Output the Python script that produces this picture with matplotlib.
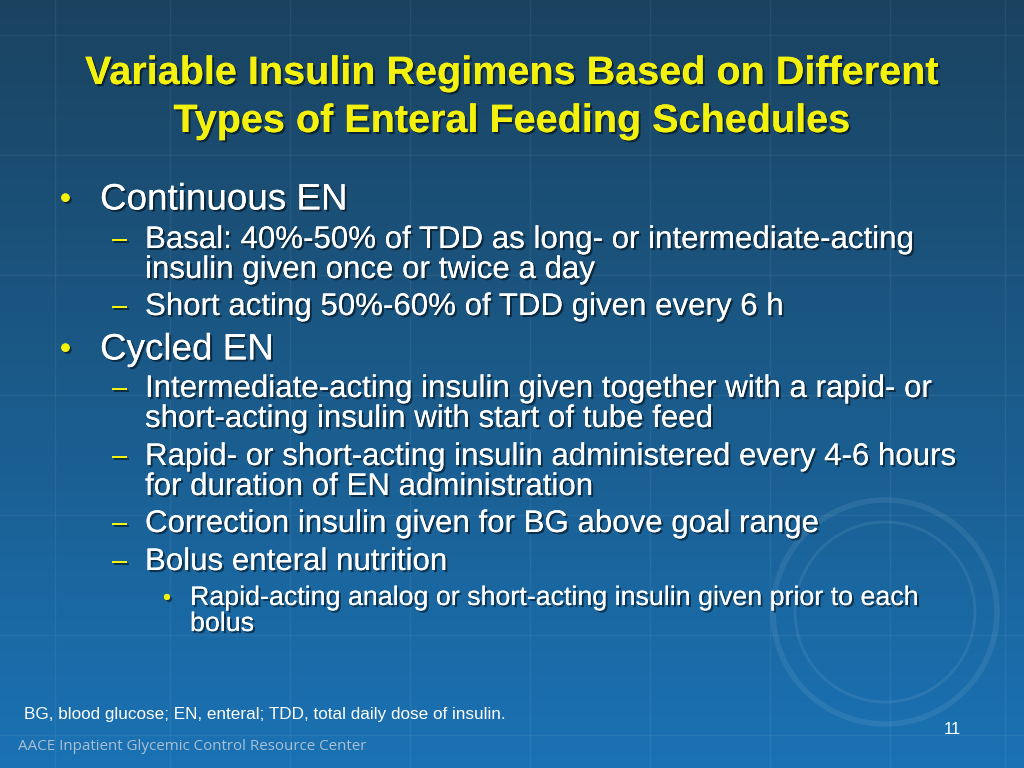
import numpy as np
import matplotlib.pyplot as plt
from matplotlib import patheffects as pe
from matplotlib.patches import Circle

# Slide content
title_lines = ["Variable Insulin Regimens Based on Different",
               "Types of Enteral Feeding Schedules"]
# (level, y position of first line, lines)
bullets = [
    (1, 200, ["Continuous EN"]),
    (2, 240, ["Basal: 40%-50% of TDD as long- or intermediate-acting",
              "insulin given once or twice a day"]),
    (2, 307, ["Short acting 50%-60% of TDD given every 6 h"]),
    (1, 350, ["Cycled EN"]),
    (2, 389, ["Intermediate-acting insulin given together with a rapid- or",
              "short-acting insulin with start of tube feed"]),
    (2, 457, ["Rapid- or short-acting insulin administered every 4-6 hours",
              "for duration of EN administration"]),
    (2, 524, ["Correction insulin given for BG above goal range"]),
    (2, 562, ["Bolus enteral nutrition"]),
    (3, 598, ["Rapid-acting analog or short-acting insulin given prior to each",
              "bolus"]),
]
footnote = "BG, blood glucose; EN, enteral; TDD, total daily dose of insulin."
footer = "AACE Inpatient Glycemic Control Resource Center"
page_no = "11"

W, H = 1024, 768
fig = plt.figure(figsize=(10.24, 7.68), dpi=100)
ax = fig.add_axes([0, 0, 1, 1])
ax.set_xlim(0, W)
ax.set_ylim(H, 0)
ax.axis("off")

# gradient background
top = np.array([0x1b, 0x43, 0x60]) / 255
bot = np.array([0x1a, 0x72, 0xb4]) / 255
t = np.linspace(0, 1, 256)[:, None]
grad = top + (bot - top) * t
img = np.repeat(grad[:, None, :], 2, axis=1)
ax.imshow(img, extent=[0, W, H, 0], aspect="auto", zorder=0)

# faint grid lines
for gx in [55, 170, 290, 410, 530, 650, 770, 890, 1005]:
    ax.axvline(gx, color="white", alpha=0.06, lw=1, zorder=1)
for gy in [35, 155, 275, 395, 515, 635, 735]:
    ax.axhline(gy, color="white", alpha=0.06, lw=1, zorder=1)

# faint seal watermark (rings only)
for r, lw in [(112, 4), (90, 2)]:
    ax.add_patch(Circle((885, 612), r, fill=False, ec="white", alpha=0.08, lw=lw, zorder=1))

shadow = [pe.withSimplePatchShadow(offset=(1.5, -1.5), shadow_rgbFace="black", alpha=0.5),
          pe.Normal()]
font = "Liberation Sans"

for i, line in enumerate(title_lines):
    ax.text(512, 73 + i * 48, line, ha="center", va="center", fontsize=28.5,
            fontweight="bold", color="#f4f20c", family=font, path_effects=shadow)

style = {1: dict(bx=60, tx=100, fs=26.5, lh=34, mark="•"),
         2: dict(bx=112, tx=145, fs=22.5, lh=30, mark="–"),
         3: dict(bx=163, tx=190, fs=19.3, lh=26, mark="•")}
for lvl, y0, lines in bullets:
    s = style[lvl]
    ax.text(s["bx"], y0, s["mark"], ha="left", va="center", fontsize=s["fs"] * 0.85,
            color="#f4f20c", family=font, path_effects=shadow)
    for j, line in enumerate(lines):
        ax.text(s["tx"], y0 + j * s["lh"], line, ha="left", va="center",
                fontsize=s["fs"], color="white", family=font, path_effects=shadow)

ax.text(24, 715, footnote, ha="left", va="center", fontsize=12.3, color="white", family=font)
ax.text(952, 730, page_no, ha="center", va="center", fontsize=12, color="white", family=font)
ax.text(18, 747, footer, ha="left", va="center", fontsize=10.9, color="#a9bfd4", family="Open Sans")

fig.savefig("out.png", dpi=100)
